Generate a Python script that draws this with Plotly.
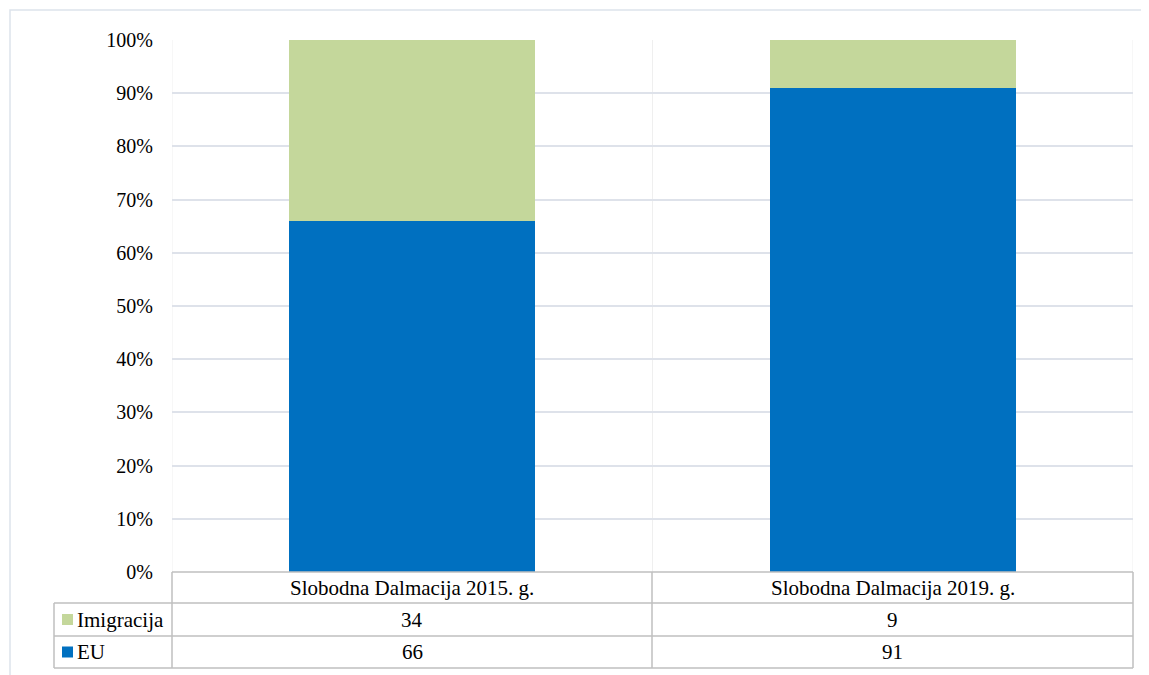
import plotly.graph_objects as go

categories = ["Slobodna Dalmacija 2015. g.", "Slobodna Dalmacija 2019. g."]
series_names = ["EU", "Imigracija"]
eu_values = [66, 91]
imigracija_values = [34, 9]
series_colors = {"EU": "#0070C0", "Imigracija": "#C4D79B"}
tick_values = [0, 10, 20, 30, 40, 50, 60, 70, 80, 90, 100]
tick_labels = [f"{v}%" for v in tick_values]

OFF = 8  # page body margin
W, H = 1149 - OFF, 675 - OFF
L, R, T, B = 172, 1133, 40, 572  # page pixel positions of plot area
FONT = "Times New Roman, Liberation Serif, serif"
GRID = "#DEE2EA"
TABLE = "#BFBFBF"
TSIZE = 21


def px(p):
    return (p - L) / (R - L)


def py(p):
    return (B - p) / (B - T)


fig = go.Figure()
values = {"EU": eu_values, "Imigracija": imigracija_values}
for name in series_names:
    fig.add_trace(go.Bar(
        x=categories, y=values[name], name=name,
        marker=dict(color=series_colors[name], line=dict(width=0)),
        width=0.512, showlegend=False, hoverinfo="skip",
    ))

shapes = []
for xv in [-0.5, 0.5, 1.5]:
    shapes.append(dict(type="line", xref="x", yref="paper", x0=xv, x1=xv, y0=0, y1=1,
                       line=dict(color="#EFEFEF", width=1), layer="below"))

row_y = [572, 603, 636, 668]
shapes.append(dict(type="line", xref="paper", yref="paper", x0=px(L), x1=px(R), y0=py(572), y1=py(572),
                   line=dict(color=TABLE, width=1.5)))
for yy in row_y[1:]:
    shapes.append(dict(type="line", xref="paper", yref="paper", x0=px(54), x1=px(R), y0=py(yy), y1=py(yy),
                       line=dict(color=TABLE, width=1.5)))
shapes.append(dict(type="line", xref="paper", yref="paper", x0=px(54), x1=px(54), y0=py(603), y1=py(668),
                   line=dict(color=TABLE, width=1.5)))
for xx in [L, 652, R]:
    shapes.append(dict(type="line", xref="paper", yref="paper", x0=px(xx), x1=px(xx), y0=py(572), y1=py(668),
                       line=dict(color=TABLE, width=1.5)))

shapes.append(dict(type="rect", xref="paper", yref="paper", x0=px(10), x1=px(1147), y0=py(10), y1=py(700),
                   line=dict(color="#DDE3EC", width=1.5), fillcolor="rgba(0,0,0,0)"))

annotations = []
for c in categories:
    annotations.append(dict(x=c, y=py(588), xref="x", yref="paper", text=c, showarrow=False,
                            font=dict(family=FONT, size=TSIZE, color="#000"), xanchor="center", yanchor="middle"))
table_rows = [("Imigracija", imigracija_values, 619.5), ("EU", eu_values, 652)]
for name, vals, yy in table_rows:
    for c, v in zip(categories, vals):
        annotations.append(dict(x=c, y=py(yy), xref="x", yref="paper", text=str(v), showarrow=False,
                                font=dict(family=FONT, size=TSIZE, color="#000"), xanchor="center", yanchor="middle"))
    shapes.append(dict(type="rect", xref="paper", yref="paper", x0=px(62), x1=px(73),
                       y0=py(yy - 5.5), y1=py(yy + 5.5),
                       fillcolor=series_colors[name], line=dict(width=0)))
    annotations.append(dict(x=px(75), y=py(yy), xref="paper", yref="paper", text=name, showarrow=False,
                            font=dict(family=FONT, size=TSIZE, color="#000"), xanchor="left", yanchor="middle"))

fig.update_layout(
    width=W, height=H,
    margin=dict(l=L - OFF, r=1149 - R, t=T - OFF, b=675 - B),
    barmode="stack",
    plot_bgcolor="white", paper_bgcolor="white",
    shapes=shapes, annotations=annotations,
    xaxis=dict(range=[-0.5, 1.5], showticklabels=False, showgrid=False, zeroline=False,
               showline=False, ticks="", fixedrange=True),
    yaxis=dict(range=[0, 100], tickmode="array", tickvals=tick_values, ticktext=tick_labels,
               showgrid=True, gridcolor=GRID, gridwidth=1.5, zeroline=False, showline=False, ticks="",
               tickfont=dict(family=FONT, size=20, color="#000"), ticklabelstandoff=18),
    font=dict(family=FONT, size=20, color="#000"),
)

fig.write_html("out.html")
